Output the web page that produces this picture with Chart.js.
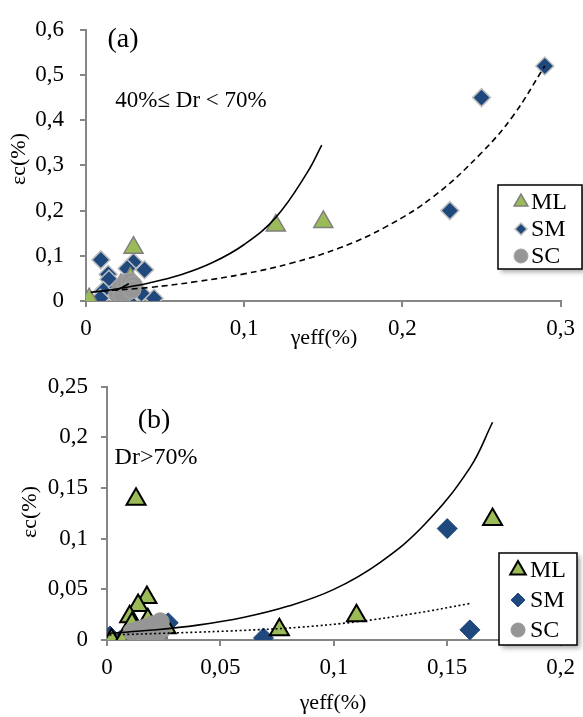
<!DOCTYPE html>
<html>
<head>
<meta charset="utf-8">
<script src="https://cdn.jsdelivr.net/npm/chart.js@4.4.1/dist/chart.umd.min.js"></script>
<style>
body { margin: 0; background: #fff; width: 583px; height: 717px; position: relative; overflow: hidden; }
.box { position: absolute; left: 0; width: 583px; }
#box-a { top: 0; height: 360px; }
#box-b { top: 360px; height: 357px; }
</style>
</head>
<body>
<div class="box" id="box-a"><canvas id="chart-a"></canvas></div>
<div class="box" id="box-b"><canvas id="chart-b"></canvas></div>
<script>
// ---- chart (a): 40% <= Dr < 70% ----
const mlA_x = [0.002, 0.030, 0.120, 0.150, 0.022, 0.028];
const mlA_y = [0.004, 0.118, 0.167, 0.175, 0.035, 0.050];
const smA_x = [0.290, 0.250, 0.230, 0.0094, 0.043, 0.037, 0.030, 0.026, 0.014, 0.0145, 0.011, 0.009, 0.021, 0.027, 0.035, 0.020, 0.025];
const smA_y = [0.520, 0.450, 0.200, 0.091, 0.006, 0.069, 0.086, 0.072, 0.059, 0.048, 0.023, 0.006, 0.000, 0.000, 0.017, 0.030, 0.040];
const scA_x = [0.020, 0.022, 0.025, 0.028, 0.030, 0.026, 0.023, 0.029];
const scA_y = [0.015, 0.030, 0.040, 0.042, 0.035, 0.020, 0.013, 0.025];
const fitMlA_x = [0.003, 0.02, 0.04, 0.06, 0.08, 0.10, 0.12, 0.14, 0.149];
const fitMlA_y = [0.019, 0.027, 0.040, 0.058, 0.085, 0.125, 0.185, 0.285, 0.345];
const fitSmA_x = [0.01, 0.04, 0.07, 0.10, 0.13, 0.16, 0.19, 0.22, 0.25, 0.27, 0.29];
const fitSmA_y = [0.022, 0.030, 0.043, 0.060, 0.084, 0.117, 0.165, 0.232, 0.328, 0.410, 0.520];
const fitScA_x = [0.019, 0.027];
const fitScA_y = [0.023, 0.038];
const xTicksA = [0, 0.1, 0.2, 0.3];
const yTicksA = [0, 0.1, 0.2, 0.3, 0.4, 0.5, 0.6];

// ---- chart (b): Dr > 70% ----
const mlB_x = [0.0128, 0.170, 0.110, 0.076, 0.0176, 0.0137, 0.010, 0.011, 0.002, 0.007, 0.012, 0.016, 0.026, 0.018, 0.022];
const mlB_y = [0.139, 0.119, 0.024, 0.010, 0.042, 0.034, 0.023, 0.016, 0.000, 0.000, 0.002, 0.004, 0.012, 0.020, 0.008];
const smB_x = [0.150, 0.160, 0.069, 0.0013, 0.006, 0.027, 0.024];
const smB_y = [0.110, 0.010, 0.002, 0.004, 0.000, 0.017, 0.013];
const scB_x = [0.011, 0.014, 0.017, 0.020, 0.0235, 0.024, 0.021, 0.018];
const scB_y = [0.008, 0.010, 0.012, 0.015, 0.018, 0.010, 0.004, 0.005];
const fitMlB_x = [0.001, 0.02, 0.04, 0.06, 0.08, 0.10, 0.12, 0.14, 0.16, 0.17];
const fitMlB_y = [0.0066, 0.0098, 0.0147, 0.0222, 0.0335, 0.050, 0.076, 0.114, 0.170, 0.215];
const fitSmB_x = [0.001, 0.03, 0.06, 0.085, 0.11, 0.135, 0.16];
const fitSmB_y = [0.005, 0.007, 0.0095, 0.0126, 0.018, 0.026, 0.036];
const xTicksB = [0, 0.05, 0.1, 0.15, 0.2];
const yTicksB = [0, 0.05, 0.1, 0.15, 0.2, 0.25];

const serif = '"Liberation Serif", "Times New Roman", serif';
const axisColor = '#868686';
const green = '#9BBB59';
const blue = '#1F497D';
const grey = '#969696';

function pts(xs, ys) {
    return xs.map((x, i) => ({ x: x, y: ys[i] }));
}

function fmt(v) {
    return String(+v.toFixed(3)).replace('.', ',');
}

function axis(ticks, size, pad, fit) {
    return {
        type: 'linear',
        min: ticks[0],
        max: ticks[ticks.length - 1],
        border: { color: axisColor, width: 2 },
        grid: { drawOnChartArea: false, color: axisColor, lineWidth: 2, tickLength: 6 },
        afterBuildTicks: s => { s.ticks = ticks.map(v => ({ value: v })); },
        ticks: { color: '#000', font: { family: serif, size: size }, padding: pad, maxRotation: 0, callback: v => fmt(v) },
        afterFit: fit
    };
}

function trend(data, dash, order) {
    return {
        data: data, showLine: true, pointRadius: 0, borderColor: '#000', borderWidth: 1.6,
        borderDash: dash, tension: 0.4, order: order, legend: false
    };
}

const textPlugin = {
    id: 'texts',
    afterDraw(chart, args, opts) {
        const ctx = chart.ctx;
        opts.items.forEach(t => {
            ctx.save();
            ctx.font = t.font;
            ctx.fillStyle = '#000';
            ctx.textAlign = 'center';
            ctx.textBaseline = 'middle';
            ctx.translate(t.x, t.y);
            if (t.rot) ctx.rotate(t.rot);
            ctx.fillText(t.text, 0, 0);
            ctx.restore();
        });
    }
};

const legendPlugin = {
    id: 'boxLegend',
    afterDraw(chart, args, opts) {
        const ctx = chart.ctx;
        ctx.save();
        ctx.shadowColor = 'rgba(0,0,0,0.35)';
        ctx.shadowBlur = 5;
        ctx.shadowOffsetX = 3;
        ctx.shadowOffsetY = 3;
        ctx.fillStyle = '#fff';
        ctx.fillRect(opts.x, opts.y, opts.w, opts.h);
        ctx.restore();
        ctx.save();
        ctx.strokeStyle = '#000';
        ctx.lineWidth = 1.5;
        ctx.strokeRect(opts.x, opts.y, opts.w, opts.h);
        const items = chart.data.datasets.filter(d => d.legend !== false);
        items.forEach((d, i) => {
            const cy = opts.y + opts.first + i * opts.gap;
            ctx.fillStyle = d.backgroundColor;
            ctx.strokeStyle = d.borderColor;
            ctx.lineWidth = d.borderWidth;
            Chart.helpers.drawPoint(ctx, { pointStyle: d.pointStyle, radius: opts.sizes[i], borderWidth: d.borderWidth, rotation: 0 }, opts.x + opts.mx, cy);
            ctx.fillStyle = '#000';
            ctx.font = opts.font;
            ctx.textAlign = 'left';
            ctx.textBaseline = 'middle';
            ctx.fillText(d.label, opts.x + opts.tx, cy + 1);
        });
        ctx.restore();
    }
};

function makeChart(id, cfg) {
    return new Chart(document.getElementById(id).getContext('2d'), {
        type: 'scatter',
        data: { datasets: cfg.datasets },
        options: {
            responsive: true,
            maintainAspectRatio: false,
            animation: false,
            events: [],
            layout: { padding: cfg.padding },
            scales: cfg.scales,
            plugins: {
                legend: { display: false },
                tooltip: { enabled: false },
                texts: { items: cfg.texts },
                boxLegend: cfg.legend
            }
        },
        plugins: [textPlugin, legendPlugin]
    });
}

makeChart('chart-a', {
    padding: { top: 16, right: 20, left: 0, bottom: 0 },
    scales: {
        x: axis(xTicksA, 23, 8, s => { s.height = 59; }),
        y: axis(yTicksA, 23, 16, s => { s.width = 86; })
    },
    datasets: [
        trend(pts(fitMlA_x, fitMlA_y), [], 0),
        trend(pts(fitSmA_x, fitSmA_y), [6, 4], 0),
        trend(pts(fitScA_x, fitScA_y), [], 0),
        { label: 'ML', data: pts(mlA_x, mlA_y), pointStyle: 'triangle', pointRadius: 11,
          backgroundColor: green, borderColor: '#7F7F7F', borderWidth: 1.5, order: 2 },
        { label: 'SM', data: pts(smA_x, smA_y), pointStyle: 'rectRot', pointRadius: 9,
          backgroundColor: blue, borderColor: '#BFBFBF', borderWidth: 1.5, order: 3 },
        { label: 'SC', data: pts(scA_x, scA_y), pointStyle: 'circle', pointRadius: 9,
          backgroundColor: grey, borderColor: '#A6A6A6', borderWidth: 1, order: 1 }
    ],
    texts: [
        { text: '(a)', x: 123, y: 40, font: '28px ' + serif },
        { text: '40%≤ Dr < 70%', x: 191, y: 101, font: '23px ' + serif },
        { text: 'γeff(%)', x: 324, y: 338, font: '22px ' + serif },
        { text: 'εc(%)', x: 19, y: 159, font: '22px ' + serif, rot: -Math.PI / 2 }
    ],
    legend: { x: 498, y: 185, w: 84, h: 84, first: 17, gap: 27, mx: 23, tx: 33,
              sizes: [8, 6, 7], font: '24px ' + serif }
});

makeChart('chart-b', {
    padding: { top: 23, right: 22, left: 0, bottom: 0 },
    scales: {
        x: axis(xTicksB, 23, 8, s => { s.height = 77; }),
        y: axis(yTicksB, 23, 13, s => { s.width = 107; })
    },
    datasets: [
        trend(pts(fitMlB_x, fitMlB_y), [], 0),
        trend(pts(fitSmB_x, fitSmB_y), [2, 2.5], 0),
        { label: 'ML', data: pts(mlB_x, mlB_y), pointStyle: 'triangle', pointRadius: 11,
          backgroundColor: green, borderColor: '#000', borderWidth: 2, order: 2 },
        { label: 'SM', data: pts(smB_x, smB_y), pointStyle: 'rectRot', pointRadius: 10,
          backgroundColor: blue, borderColor: blue, borderWidth: 1, order: 3 },
        { label: 'SC', data: pts(scB_x, scB_y), pointStyle: 'circle', pointRadius: 9,
          backgroundColor: grey, borderColor: grey, borderWidth: 1, order: 1 }
    ],
    texts: [
        { text: '(b)', x: 154, y: 61, font: '28px ' + serif },
        { text: 'Dr>70%', x: 156, y: 98, font: '24px ' + serif },
        { text: 'γeff(%)', x: 333, y: 343, font: '22px ' + serif },
        { text: 'εc(%)', x: 30, y: 152, font: '22px ' + serif, rot: -Math.PI / 2 }
    ],
    legend: { x: 499, y: 193, w: 78, h: 92, first: 17, gap: 30, mx: 19, tx: 31,
              sizes: [9, 7, 7], font: '24px ' + serif }
});
</script>
</body>
</html>
